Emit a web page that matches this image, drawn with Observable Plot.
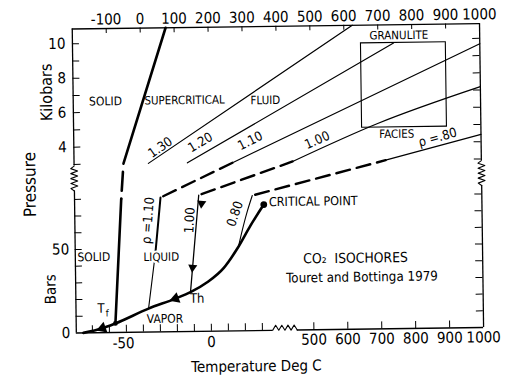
<!DOCTYPE html>
<html><head><meta charset="utf-8">
<script src="https://cdn.jsdelivr.net/npm/d3@7"></script>
<script src="https://cdn.jsdelivr.net/npm/@observablehq/plot@0.6"></script>
<style>
body{margin:0;background:#fff;}
#chart{width:520px;height:376px;transform:rotate(-0.77deg);transform-origin:260px 188px;}
</style></head><body><div id="chart"></div>
<script>
// ---------- tick values ----------
const topTicks = [-100, 0, 100, 200, 300, 400, 500, 600, 700, 800, 900, 1000];
const bottomLowTicks = [-70, -60, -50, -40, -30, -20, -10, 0, 10, 20, 30];
const bottomLowLabels = [-50, 0];
const bottomHighTicks = [500, 600, 700, 800, 900, 1000];
const kbarTicks = [3, 4, 5, 6, 7, 8, 9, 10];
const kbarLabels = [4, 6, 8, 10];
const barTicks = [10, 20, 30, 40, 50, 60, 70, 80];
const barLabels = [0, 50];

// ---------- upper region: [T (top axis, °C), P (kbar)] ----------
const melt_hi   = [[-54.5, 3.0], [75, 10.86]];
const iso130_hi = [[19, 3.0], [625, 10.86]];
const iso120_hi = [[134, 3.0], [746, 9.8]];
const iso110_hi = [[270, 3.0], [1000, 9.69]];
const iso100_hi = [[444, 3.0], [696, 5.14], [1000, 7.2]];
const iso080_hi = [[718, 3.0], [1000, 4.42]];
const granuliteT = [650, 900];
const granuliteP = [4.9, 9.8];

// ---------- lower region: [T (lower bottom axis, °C), P (bars)] ----------
const vapor_lo  = [[-75.3, 0], [-64.1, 2.6], [-56.4, 5.4], [-36.8, 14.0], [-20.9, 19.8], [-12, 23.5],
                   [-2.1, 29.3], [7.8, 37.8], [15.8, 49.1], [23.8, 62.9], [31.8, 75.4]];
const melt_lo   = [[-56.4, 5.4], [-52, 80]];
const iso110_lo = [[-28.9, 80.4], [-32.3, 47.5], [-36.8, 14.0]];
const iso100_lo = [[-6.4, 81.5], [-12, 23.5]];
const iso080_lo = [[25.1, 80.9], [21.6, 70], [18.9, 60], [16.6, 50.5]];
const criticalPoint = [31.8, 75.4];
const triplePoint = [-56.4, 5.4];
const tfMark = [-64.1, 2.6];
const thMark = [-20.9, 19.8];
const arrows100 = [[-4.8, 76.5], [-10.6, 38.3]];

// ---------- broken-axis scale set-up ----------
const X_DOMAIN = [-200, 1000], X_RANGE = [73.9, 481.2];          // top axis (and bottom right part)
const LOW_DOMAIN = [-80, 36], LOW_RANGE = [73, 270.2];            // bottom axis, left part
const Y_DOMAIN = [0, 85, 2900, 10860], Y_RANGE = [330, 188.05, 163.1, 26]; // bars, piecewise
const P_TOP = Y_DOMAIN[3];
const xPx = d3.scaleLinear(X_DOMAIN, X_RANGE);
const lowPx = d3.scaleLinear(LOW_DOMAIN, LOW_RANGE);
const lowToX = t => xPx.invert(lowPx(t));
const lowEnd = lowToX(LOW_DOMAIN[1]);
const highStart = 451;

const hi = ([t, p]) => ({x: t, y: p * 1000});
const lo = ([t, p]) => ({x: lowToX(t), y: p});

const FONT = "'DejaVu Sans Condensed','Liberation Sans Narrow','Arial Narrow',sans-serif";
const K = "black";

const line = (rows, o = {}) => Plot.line(rows, {x: "x", y: "y", stroke: K, strokeWidth: 1.2, ...o});
const dashed = (a, b) => line([a, b], {strokeWidth: 2.4, strokeDasharray: "14,7", strokeDashoffset: 18});

// zigzag break marks
const zigV = (xc, n, amp) => d3.range(n + 1).map(i => ({
  x: xc + (i === 0 || i === n ? 0 : (i % 2 ? -amp : amp)),
  y: Y_DOMAIN[1] + i * (Y_DOMAIN[2] - Y_DOMAIN[1]) / n
}));
const zigH = d3.range(9).map(i => ({
  x: lowEnd + i * (highStart - lowEnd) / 8,
  y: i % 2 ? 3 : 0
}));

const txt = (text, x, y, o = {}) => Plot.text([text], {x, y, text: d => d, fill: K, fontSize: 12, ...o});
const title = (text, dx, dy, o = {}) => Plot.text([text], {frameAnchor: "top-left", dx, dy, textAnchor: "middle", text: d => d, fill: K, fontSize: 16, ...o});

const plot = Plot.plot({
  width: 520, height: 376,
  marginLeft: 0, marginRight: 0, marginTop: 0, marginBottom: 0,
  x: {type: "linear", domain: X_DOMAIN, range: X_RANGE, axis: null},
  y: {type: "linear", domain: Y_DOMAIN, range: Y_RANGE, axis: null},
  style: {fontFamily: FONT, background: "white", color: "black", overflow: "visible"},
  marks: [
    // frame
    Plot.ruleY([P_TOP], {x1: X_DOMAIN[0], x2: X_DOMAIN[1], stroke: K, strokeWidth: 1.3}),
    Plot.ruleX([X_DOMAIN[0], X_DOMAIN[1]], {y1: Y_DOMAIN[2], y2: P_TOP, stroke: K, strokeWidth: 1.3}),
    Plot.ruleX([X_DOMAIN[0], X_DOMAIN[1]], {y1: 0, y2: Y_DOMAIN[1], stroke: K, strokeWidth: 1.3}),
    Plot.ruleY([0], {x1: X_DOMAIN[0], x2: lowEnd, stroke: K, strokeWidth: 1.3}),
    Plot.ruleY([0], {x1: highStart, x2: X_DOMAIN[1], stroke: K, strokeWidth: 1.3}),
    line(zigV(X_DOMAIN[0], 10, 10), {strokeWidth: 1.1}),
    line(zigV(X_DOMAIN[1], 10, 10), {strokeWidth: 1.1}),
    line(zigH, {strokeWidth: 1.1}),
    // ticks
    Plot.ruleX(topTicks.slice(0, -1), {x: d => d, y1: P_TOP, y2: P_TOP, insetBottom: -5, stroke: K}),
    Plot.ruleX(bottomHighTicks.slice(0, -1), {x: d => d, y1: 0, y2: 0, insetTop: -7, stroke: K}),
    Plot.ruleX(bottomLowTicks, {x: d => lowToX(d), y1: 0, y2: 0, insetTop: -7, stroke: K}),
    Plot.ruleY(kbarTicks, {y: d => d * 1000, x1: X_DOMAIN[0], x2: X_DOMAIN[0], insetRight: -7, stroke: K}),
    Plot.ruleY(barTicks, {y: d => d, x1: X_DOMAIN[0], x2: X_DOMAIN[0], insetRight: -7, stroke: K}),
    Plot.ruleY(kbarTicks, {y: d => d * 1000, x1: X_DOMAIN[1], x2: X_DOMAIN[1], insetLeft: -7, stroke: K}),
    Plot.ruleY(barTicks, {y: d => d, x1: X_DOMAIN[1], x2: X_DOMAIN[1], insetLeft: -7, stroke: K}),
    // tick labels
    Plot.text(topTicks, {x: d => d, y: P_TOP, dy: -9, text: d => String(d), fontSize: 15, fill: K}),
    Plot.text(bottomHighTicks, {x: d => d, y: 0, dy: 10, text: d => String(d), fontSize: 15, fill: K}),
    Plot.text(bottomLowLabels.filter(d => d < 0), {x: d => lowToX(d), y: 0, dy: 11, dx: -3, text: d => String(d), fontSize: 15, fill: K}),
    Plot.text(bottomLowLabels.filter(d => d >= 0), {x: d => lowToX(d), y: 0, dy: 11, text: d => String(d), fontSize: 15, fill: K}),
    Plot.text(kbarLabels, {x: X_DOMAIN[0], y: d => d * 1000, dx: -7, textAnchor: "end", text: d => String(d), fontSize: 15, fill: K}),
    Plot.text(barLabels, {x: X_DOMAIN[0], y: d => d, dx: -6, textAnchor: "end", text: d => String(d), fontSize: 15, fill: K}),
    // granulite facies box
    Plot.rect([0], {x1: granuliteT[0], x2: granuliteT[1], y1: granuliteP[0] * 1000, y2: granuliteP[1] * 1000, fill: "none", stroke: K, strokeWidth: 1.1}),
    // upper isochores
    line(iso130_hi.map(hi)),
    line(iso120_hi.map(hi)),
    line(iso110_hi.map(hi)),
    line(iso100_hi.map(hi), {curve: "monotone-x"}),
    line(iso080_hi.map(hi)),
    // melting curve
    line(melt_hi.map(hi), {strokeWidth: 2.6}),
    line(melt_lo.map(lo), {strokeWidth: 2.6}),
    line([lo(melt_lo[1]), hi(melt_hi[0])], {strokeWidth: 2.6, strokeDasharray: "0,8,19,100"}),
    // liquid-vapor curve
    line(vapor_lo.map(lo), {strokeWidth: 2.6, curve: "monotone-x"}),
    // lower isochores
    line(iso110_lo.slice(0, 2).map(lo), {strokeWidth: 2}),
    line(iso110_lo.slice(1).map(lo), {strokeWidth: 1.1}),
    line(iso100_lo.map(lo), {strokeWidth: 1.3}),
    line(iso080_lo.map(lo), {strokeWidth: 1.1, curve: "monotone-y"}),
    // dashed connections across the break
    dashed(lo(iso110_lo[0]), hi(iso110_hi[0])),
    dashed(lo(iso100_lo[0]), hi(iso100_hi[0])),
    dashed(lo(iso080_lo[0]), hi(iso080_hi[0])),
    // points
    Plot.dot([criticalPoint], {x: d => lowToX(d[0]), y: d => d[1], r: 3.4, fill: K}),
    Plot.dot([triplePoint], {x: d => lowToX(d[0]), y: d => d[1], r: 2.4, fill: K}),
    Plot.dot([tfMark, thMark], {x: d => lowToX(d[0]), y: d => d[1], symbol: "triangle", r: 4.2, fill: K, rotate: 251}),
    Plot.dot(arrows100, {x: d => lowToX(d[0]), y: d => d[1], symbol: "triangle", r: 3.4, fill: K, rotate: 186}),
    // region / curve labels (upper)
    txt("SOLID", -105, 6630),
    txt("SUPERCRITICAL", 128, 6630, {fontSize: 11.5}),
    txt("FLUID", 366, 6560, {fontSize: 11.5}),
    txt("1.30", 55, 3800, {rotate: -34, fontSize: 13, dy: -2}),
    txt("1.20", 173, 4060, {rotate: -30, fontSize: 13, dy: -2}),
    txt("1.10", 320, 4110, {rotate: -26, fontSize: 13, dy: -2}),
    txt("1.00", 517, 4100, {rotate: -23, fontSize: 13, dy: -2}),
    txt("ρ =.80", 872, 4280, {rotate: -15, fontSize: 13}),
    txt("GRANULITE", 762, 10230, {fontSize: 11.5}),
    txt("FACIES", 752, 4500, {fontSize: 11.5}),
    // labels (lower)
    txt("SOLID", lowToX(-68.6), 45.2),
    txt("LIQUID", lowToX(-28.9), 44.7, {fontSize: 11.5, stroke: "white", strokeWidth: 4}),
    txt("VAPOR", lowToX(-27.2), 7.7),
    txt("T", lowToX(-64.7), 14.4, {fontSize: 13}),
    txt("f", lowToX(-64.7), 14.4, {fontSize: 9.5, dx: 6, dy: 5}),
    txt("Th", lowToX(-8.1), 19.7, {fontSize: 13}),
    txt("ρ =1.10", lowToX(-36.4), 66.8, {rotate: -85, fontSize: 13}),
    txt("1.00", lowToX(-11.9), 66.5, {rotate: -86, fontSize: 13}),
    txt("0.80", lowToX(14.8), 70.1, {rotate: -70, fontSize: 13}),
    txt("CRITICAL POINT", lowToX(34.8), 76.8, {textAnchor: "start", fontSize: 12.5}),
    txt("CO₂  ISOCHORES", 625.5, 42.5, {fontSize: 13.8}),
    txt("Touret and Bottinga 1979", 644, 31.1, {fontSize: 13.3}),
    // axis titles
    title("Kilobars", 41.3, 89, {rotate: -90}),
    title("Pressure", 23, 181, {rotate: -90, fontSize: 17}),
    title("Bars", 43.1, 286, {rotate: -90, fontSize: 15}),
    title("Temperature Deg C", 253.6, 360, {fontSize: 15})
  ]
});
document.getElementById("chart").appendChild(plot);
</script></body></html>
